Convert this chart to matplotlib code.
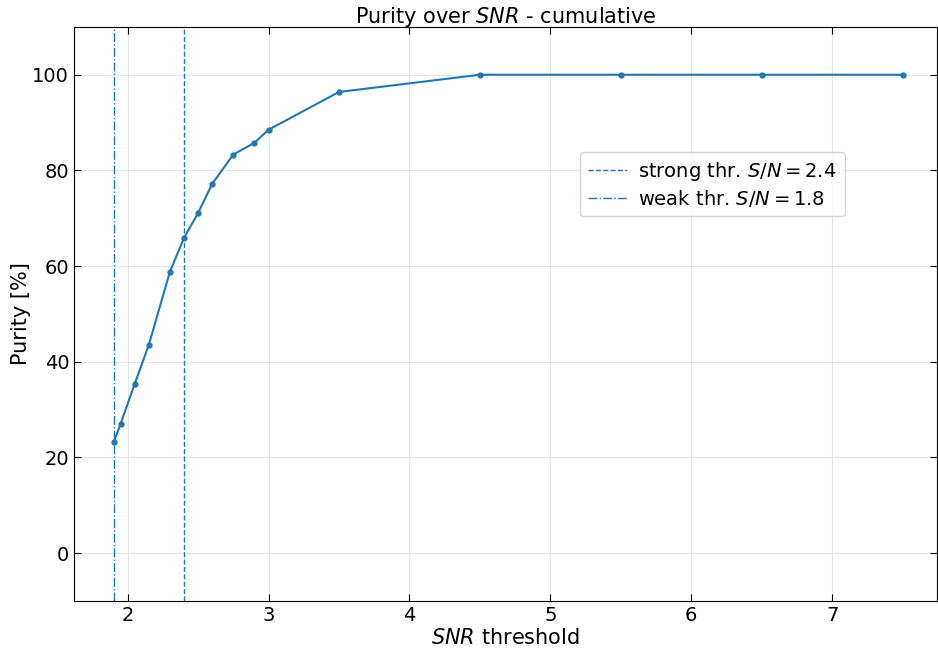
import matplotlib.pyplot as plt

snr = [1.9, 1.95, 2.05, 2.15, 2.3, 2.4, 2.5, 2.6, 2.75, 2.9, 3.0, 3.5, 4.5, 5.5, 6.5, 7.5]
purity = [23.2, 27.0, 35.4, 43.5, 58.8, 65.9, 71.1, 77.2, 83.3, 85.8, 88.5, 96.4, 100, 100, 100, 100]
strong_thr = 2.4
weak_thr = 1.9  # drawn position in the reference

fig = plt.figure(figsize=(9.38, 6.48), dpi=100)
ax = fig.add_axes([0.079, 0.0725, 0.92, 0.886])

ax.plot(snr, purity, marker='o', markersize=3.5, color='#1f77b4')
ax.axvline(strong_thr, color='#1f77b4', ls='--', lw=1, label=r'strong thr. $S/N = 2.4$')
ax.axvline(weak_thr, color='#1f77b4', ls='-.', lw=1, label=r'weak thr. $S/N = 1.8$')

ax.set_xlim(1.62, 7.745)
ax.set_ylim(-10, 110)
ax.set_xticks([2, 3, 4, 5, 6, 7])
ax.set_yticks([0, 20, 40, 60, 80, 100])
ax.grid(True, color='#e6e6e6', lw=0.8)
ax.tick_params(direction='in', top=True, right=True, labelsize=14, length=5)

ax.set_xlabel(r'$SNR$ threshold', fontsize=15, labelpad=2)
ax.set_ylabel('Purity [%]', fontsize=15, labelpad=1)
ax.set_title(r'Purity over $SNR$ - cumulative', fontsize=15, pad=3)
ax.legend(loc='upper right', bbox_to_anchor=(0.893, 0.782), fontsize=14,
          borderaxespad=0, labelspacing=0.25, handletextpad=0.6)

fig.savefig('out.png', dpi=100)
